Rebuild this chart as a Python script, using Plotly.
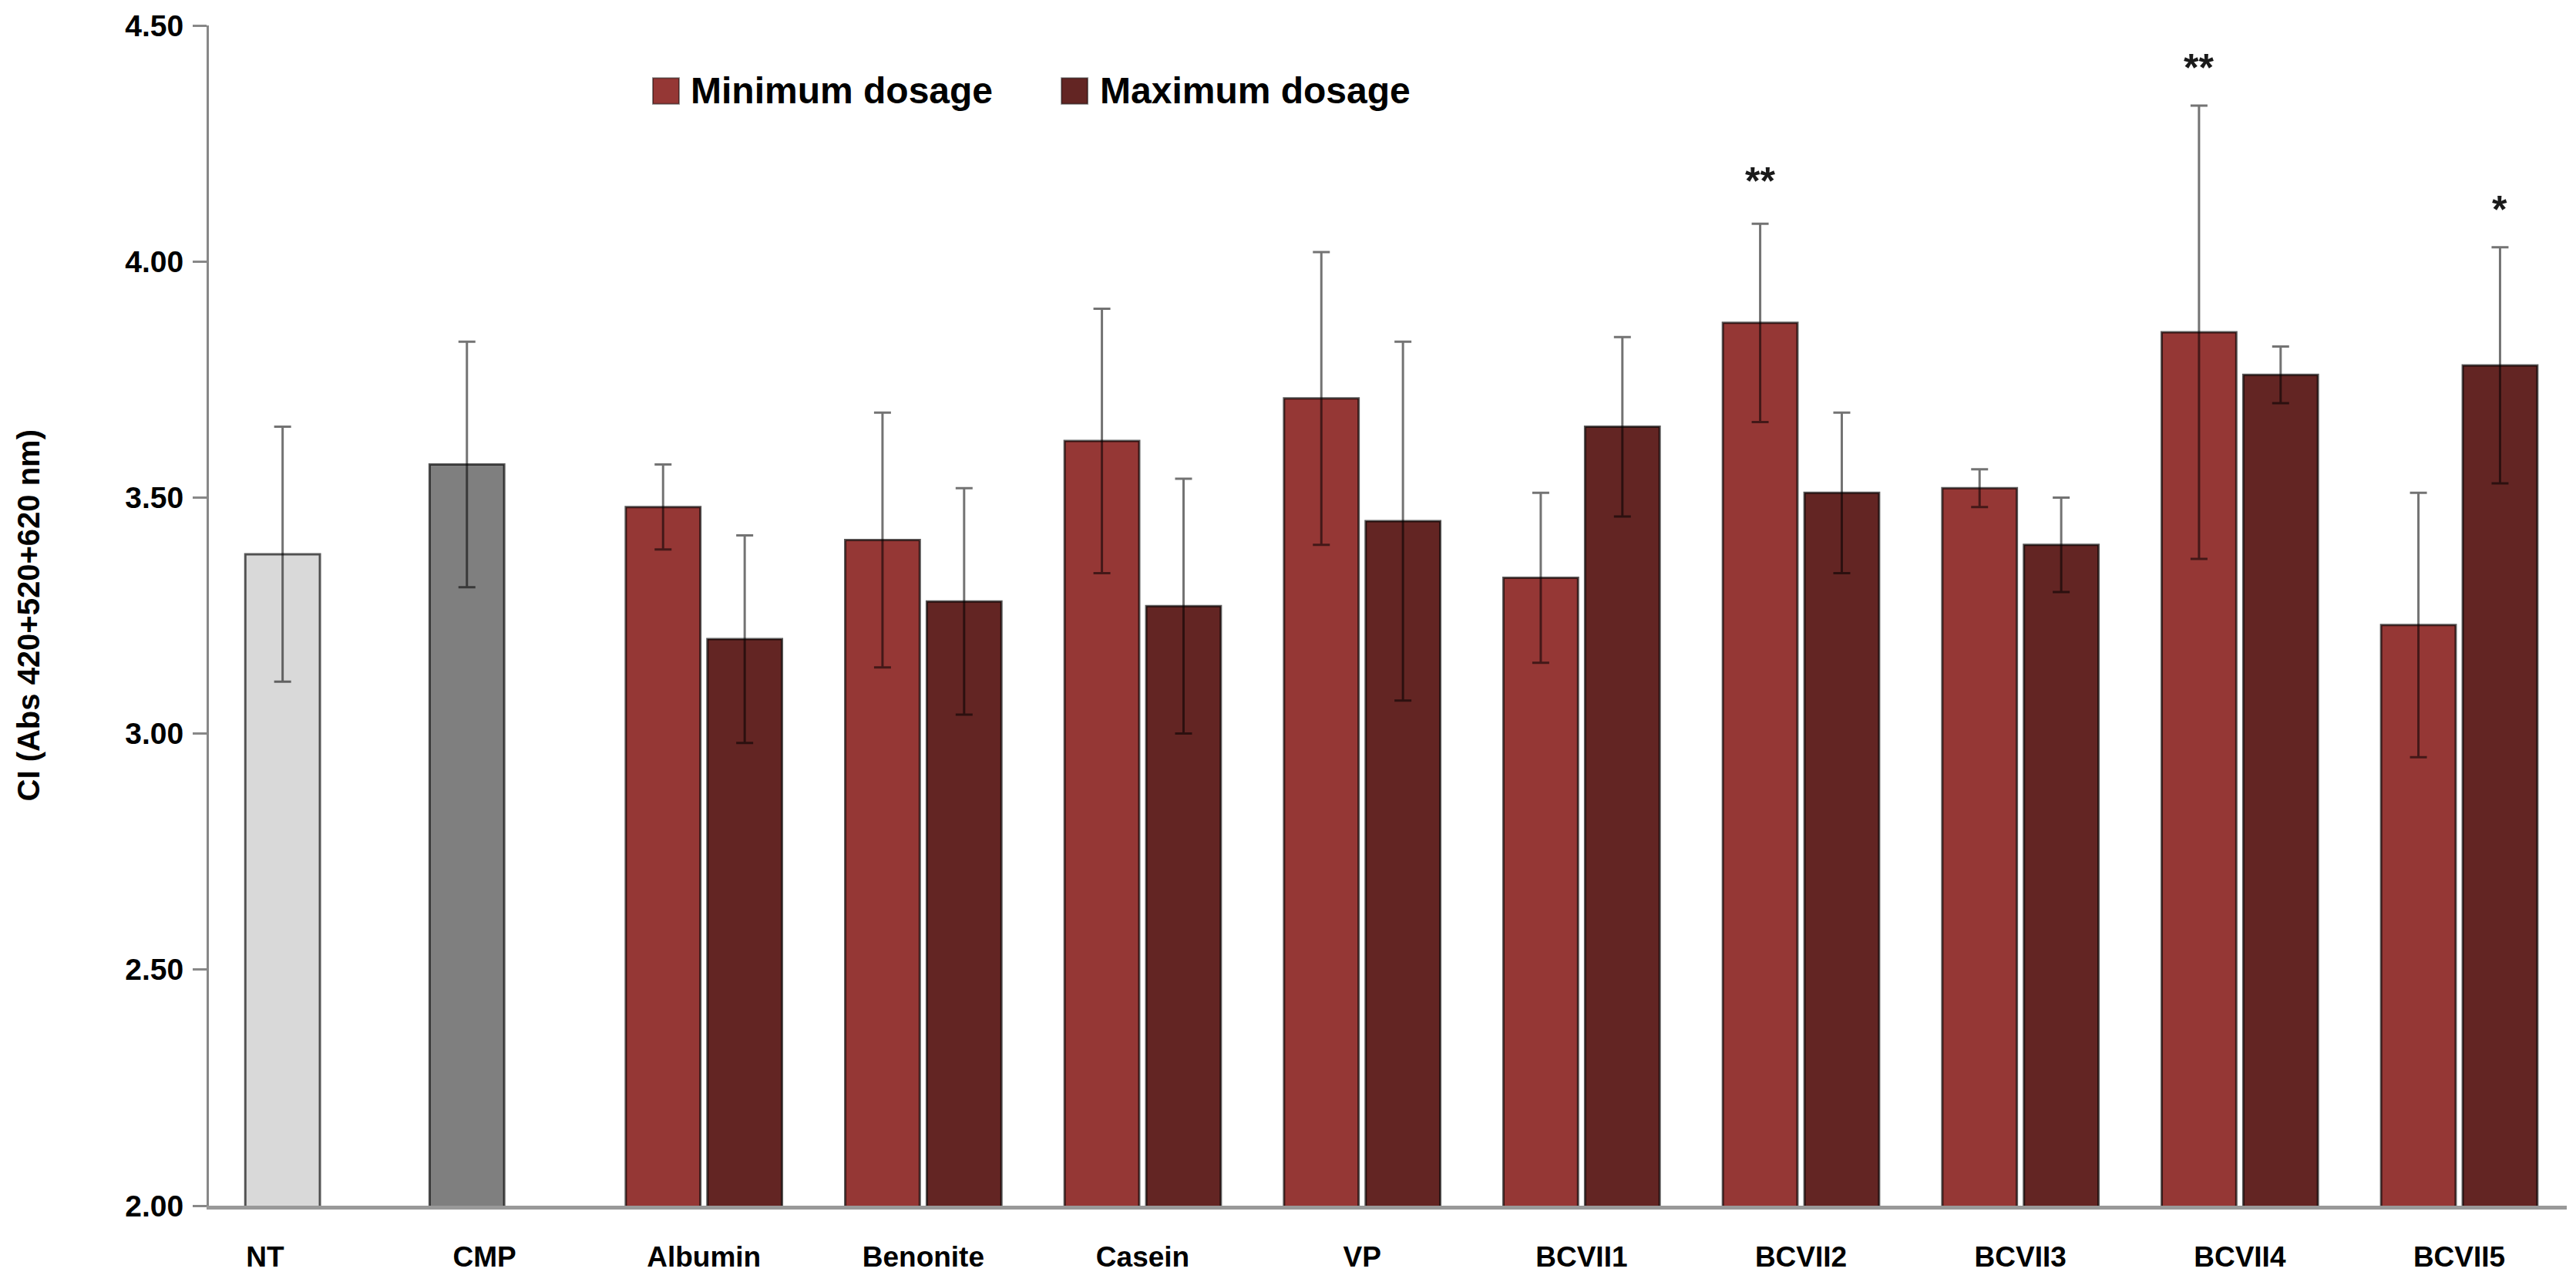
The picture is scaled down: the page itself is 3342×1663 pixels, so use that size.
import plotly.graph_objects as go

# CI values (mean +/- error)
categories = ["NT", "CMP", "Albumin", "Benonite", "Casein", "VP",
              "BCVII1", "BCVII2", "BCVII3", "BCVII4", "BCVII5"]

control_names = ["NT", "CMP"]
control_vals = [3.38, 3.57]
control_err = [0.27, 0.26]

treatments = ["Albumin", "Benonite", "Casein", "VP", "BCVII1",
              "BCVII2", "BCVII3", "BCVII4", "BCVII5"]
min_vals = [3.48, 3.41, 3.62, 3.71, 3.33, 3.87, 3.52, 3.85, 3.23]
min_err = [0.09, 0.27, 0.28, 0.31, 0.18, 0.21, 0.04, 0.48, 0.28]
max_vals = [3.20, 3.28, 3.27, 3.45, 3.65, 3.51, 3.40, 3.76, 3.78]
max_err = [0.22, 0.24, 0.27, 0.38, 0.19, 0.17, 0.10, 0.06, 0.25]

# significance marks: (category, series, label, y)
sig_marks = [("BCVII2", "min", "**", 4.17),
             ("BCVII4", "min", "**", 4.41),
             ("BCVII5", "max", "*", 4.11)]

FONT = "Liberation Sans, Arial, sans-serif"
BAR_W = 0.34
MIN_OFF = -0.356
MAX_OFF = 0.016
MIN_COLOR = "#953735"
MAX_COLOR = "#632523"

err_style = dict(type="data", visible=True, color="rgba(0,0,0,0.55)",
                 thickness=3, width=11)
outline = dict(color="rgba(0,0,0,0.65)", width=3)

fig = go.Figure()

fig.add_trace(go.Bar(
    x=control_names, y=control_vals,
    error_y=dict(array=control_err, **err_style),
    marker=dict(color=["#D9D9D9", "#7F7F7F"], line=outline),
    width=BAR_W, offset=[-BAR_W / 2 + 0.08, -BAR_W / 2 - 0.08], showlegend=False))

fig.add_trace(go.Bar(
    x=treatments, y=min_vals, name="Minimum dosage",
    error_y=dict(array=min_err, **err_style),
    marker=dict(color=MIN_COLOR, line=outline),
    width=BAR_W, offset=MIN_OFF, showlegend=False))

fig.add_trace(go.Bar(
    x=treatments, y=max_vals, name="Maximum dosage",
    error_y=dict(array=max_err, **err_style),
    marker=dict(color=MAX_COLOR, line=outline),
    width=BAR_W, offset=MAX_OFF, showlegend=False))

for cat, series, label, yv in sig_marks:
    off = MIN_OFF if series == "min" else MAX_OFF
    fig.add_annotation(x=categories.index(cat) + off + BAR_W / 2, y=yv,
                       text="<b>%s</b>" % label, showarrow=False,
                       font=dict(family=FONT, size=50, color="#1a1a1a"))

# legend drawn as squares + bold labels near the top of the plot
legend_items = [("Minimum dosage", MIN_COLOR, 0.1883), ("Maximum dosage", MAX_COLOR, 0.3616)]
for label, color, lx in legend_items:
    fig.add_shape(type="rect", xref="paper", yref="paper",
                  x0=lx, x1=lx + 0.0111, y0=0.9445 - 0.011, y1=0.9445 + 0.011,
                  fillcolor=color, line=dict(color="rgba(0,0,0,0.45)", width=2))
    fig.add_annotation(xref="paper", yref="paper", x=lx + 0.0155, y=0.9445,
                       xanchor="left", yanchor="middle", showarrow=False,
                       text="<b>%s</b>" % label,
                       font=dict(family=FONT, size=48, color="black"))

fig.add_annotation(xref="paper", yref="paper", x=-0.0765, y=0.5,
                   xanchor="center", yanchor="middle",
                   text="<b>CI (Abs 420+520+620 nm)</b>", textangle=-90,
                   showarrow=False, font=dict(family=FONT, size=40, color="black"))

fig.update_layout(
    width=3342, height=1663,
    margin=dict(l=271, r=12, t=24, b=89),
    barmode="overlay",
    plot_bgcolor="white", paper_bgcolor="white",
    font=dict(family=FONT, color="black"),
    showlegend=False,
)

fig.update_xaxes(type="category", categoryorder="array", categoryarray=categories,
                 range=[-0.256, 10.49], showline=True, linecolor="#999999",
                 linewidth=5, ticks="", showgrid=False, ticklabelstandoff=30,
                 tickvals=categories, ticktext=["<b>%s</b>" % c for c in categories],
                 tickfont=dict(family=FONT, size=37, color="black"))

fig.update_yaxes(range=[2, 4.5], tickvals=[2, 2.5, 3, 3.5, 4, 4.5],
                 ticktext=["<b>%.2f</b>" % v for v in [2, 2.5, 3, 3.5, 4, 4.5]],
                 showline=True, linecolor="#888888", linewidth=3,
                 ticks="outside", ticklen=18, tickwidth=3, tickcolor="#888888",
                 showgrid=False, zeroline=False, ticklabelstandoff=4,
                 tickfont=dict(family=FONT, size=39, color="black"))

fig.write_html("out.html", config={"displayModeBar": False},
               post_script="document.body.style.margin='0';document.body.style.overflow='hidden';")
